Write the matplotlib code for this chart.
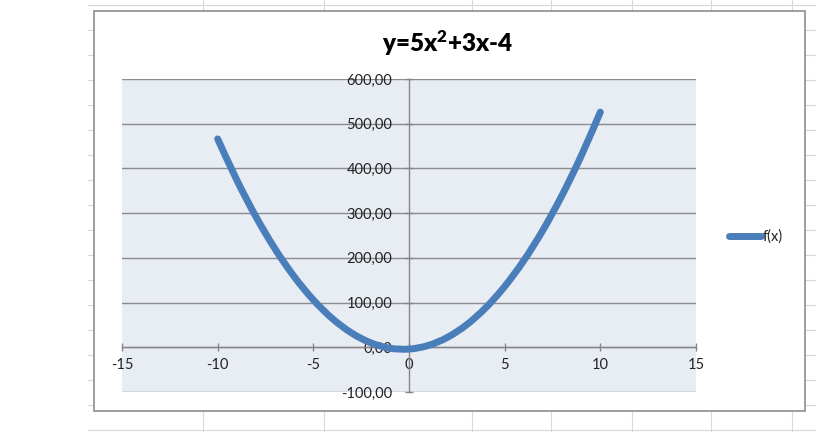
import matplotlib
matplotlib.use("Agg")
import matplotlib.pyplot as plt
from matplotlib.lines import Line2D
from matplotlib.patches import Rectangle, PathPatch
from matplotlib.path import Path
from matplotlib.ticker import FuncFormatter

# ---- data ----
x_values = [-10, -9, -8, -7, -6, -5, -4, -3, -2, -1, 0, 1, 2, 3, 4, 5, 6, 7, 8, 9, 10]
f_values = [466, 374, 292, 220, 158, 106, 64, 32, 10, -2, -4, 4, 22, 50, 88, 136, 194, 262, 340, 428, 526]
x_ticks = [-15, -10, -5, 0, 5, 10, 15]
y_ticks = [-100, 0, 100, 200, 300, 400, 500, 600]
title_text = "y=5x$^2$+3x-4"
series_name = "f(x)"

W, H = 816, 432
plt.rcParams['font.family'] = ['Lato', 'DejaVu Sans']
plt.rcParams['mathtext.default'] = 'regular'
fig = plt.figure(figsize=(W / 100, H / 100), dpi=100)
fig.patch.set_facecolor('white')

def fx(px):
    return px / W

def fy(py):
    return 1 - py / H

# spreadsheet cell grid (background)
cell_col = '#d8d8d8'
for yy in range(5, 432, 25):
    fig.add_artist(Line2D([fx(88), fx(816)], [fy(yy), fy(yy)], color=cell_col, lw=0.8, zorder=0))
for xx in [203, 324, 472, 551, 632, 711, 792]:
    fig.add_artist(Line2D([fx(xx), fx(xx)], [fy(0), fy(432)], color=cell_col, lw=0.8, zorder=0))

# chart frame
fig.add_artist(Rectangle((fx(94), fy(411)), fx(805) - fx(94), fy(11) - fy(411),
                         transform=fig.transFigure, facecolor='white',
                         edgecolor='#8e8e8e', lw=1.2, zorder=1))

# plot area
left, right, top, bottom = 122, 696, 79, 392
ax = fig.add_axes([fx(left), fy(bottom), fx(right) - fx(left), fy(top) - fy(bottom)], zorder=2)
ax.set_facecolor('#e8edf4')
ax.set_xlim(-15, 15)
ax.set_ylim(-100, 600)
for s in ['top', 'right']:
    ax.spines[s].set_visible(False)
ax.spines['left'].set_position(('data', 0))
ax.spines['bottom'].set_position(('data', 0))
for s in ['left', 'bottom']:
    ax.spines[s].set_color('#868686')
    ax.spines[s].set_linewidth(1.0)
ax.set_xticks(x_ticks)
ax.set_yticks(y_ticks)
ax.yaxis.set_major_formatter(FuncFormatter(lambda v, p: f"{v:.2f}".replace('.', ',')))
ax.xaxis.set_major_formatter(FuncFormatter(lambda v, p: f"{int(v)}"))
ax.tick_params(axis='both', direction='inout', length=6, width=1.0, color='#868686',
               labelsize=10.5, labelcolor='#222222')
ax.tick_params(axis='x', pad=5)
ax.tick_params(axis='y', pad=9)
ax.grid(axis='y', color='#8c8c8c', lw=1.0)
ax.set_axisbelow(True)

# smoothed line through the data points (Catmull-Rom -> cubic Bezier)
verts = [(x_values[0], f_values[0])]
codes = [Path.MOVETO]
n = len(x_values)
for i in range(n - 1):
    p0 = (x_values[max(i - 1, 0)], f_values[max(i - 1, 0)])
    p1 = (x_values[i], f_values[i])
    p2 = (x_values[i + 1], f_values[i + 1])
    p3 = (x_values[min(i + 2, n - 1)], f_values[min(i + 2, n - 1)])
    c1 = (p1[0] + (p2[0] - p0[0]) / 6, p1[1] + (p2[1] - p0[1]) / 6)
    c2 = (p2[0] - (p3[0] - p1[0]) / 6, p2[1] - (p3[1] - p1[1]) / 6)
    verts += [c1, c2, p2]
    codes += [Path.CURVE4] * 3
ax.add_patch(PathPatch(Path(verts, codes), facecolor='none', edgecolor='#4a7ebb',
                       lw=5.0, capstyle='round', joinstyle='round', zorder=3))

fig.text(fx(448), fy(43), title_text, ha='center', va='center', fontsize=17.5,
         fontweight='heavy', color='black', zorder=3)

# legend
fig.add_artist(Line2D([fx(729), fx(761)], [fy(236), fy(236)], color='#4a7ebb', lw=5.0,
                      solid_capstyle='round', zorder=3))
fig.text(fx(763), fy(237), series_name, ha='left', va='center', fontsize=10.5,
         color='#222222', zorder=3)

fig.savefig('out.png', dpi=100, facecolor='white')
